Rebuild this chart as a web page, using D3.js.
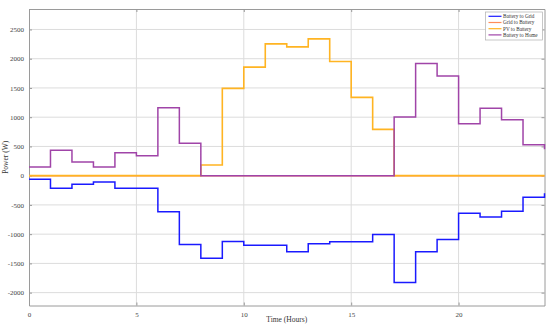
<!DOCTYPE html>
<html>
<head>
<meta charset="utf-8">
<script src="https://cdn.jsdelivr.net/npm/d3@7"></script>
<style>
  body { margin: 0; background: #fff; }
  svg text { font-family: "Liberation Serif", "Times New Roman", serif; fill: #333; }
</style>
</head>
<body>
<svg></svg>
<script>
// hourly values, step-after, last value is the point at hour 24
const hours = d3.range(0, 25);
const batteryToGrid = [-60, -215, -147, -108, -215, -215, -615, -1178, -1411, -1127, -1189, -1189, -1303, -1166, -1132, -1132, -1007, -1827, -1303, -1093, -643, -705, -609, -369, -300];
const gridToBattery = [0, 0, 0, 0, 0, 0, 0, 0, 0, 0, 0, 0, 0, 0, 0, 0, 0, 0, 0, 0, 0, 0, 0, 0, 0];
const pvToBattery = [0, 0, 0, 0, 0, 0, 0, 0, 183, 1492, 1856, 2254, 2203, 2340, 1953, 1339, 792, 0, 0, 0, 0, 0, 0, 0, 0];
const batteryToHome = [148, 434, 234, 148, 393, 342, 1161, 553, 0, 0, 0, 0, 0, 0, 0, 0, 0, 1002, 1919, 1703, 888, 1151, 957, 530, 451];
const seriesNames = ["Battery to Grid", "Grid to Battery", "PV to Battery", "Battery to Home"];
const xTicks = [0, 5, 10, 15, 20];
const yTicks = [-2000, -1500, -1000, -500, 0, 500, 1000, 1500, 2000, 2500];

const colors = ["#1a1aff", "#ff8c5a", "#ffb422", "#a044a8"];
const series = [batteryToGrid, gridToBattery, pvToBattery, batteryToHome];

const width = 550, height = 329;
const margin = {left: 29, right: 5.5, top: 9, bottom: 23.5};

const svg = d3.select("svg").attr("width", width).attr("height", height);

const x = d3.scaleLinear().domain([0, 24]).range([margin.left, width - margin.right]);
const y = d3.scaleLinear().domain([-2220, 2850]).range([height - margin.bottom, margin.top]);

// grid
svg.append("g")
  .selectAll("line.vgrid")
  .data(xTicks.slice(1))
  .enter().append("line")
  .attr("x1", d => x(d)).attr("x2", d => x(d))
  .attr("y1", y.range()[1]).attr("y2", y.range()[0])
  .style("stroke", "#dcdcdc").style("stroke-width", 1);

svg.append("g")
  .selectAll("line.hgrid")
  .data(yTicks)
  .enter().append("line")
  .attr("x1", x.range()[0]).attr("x2", x.range()[1])
  .attr("y1", d => y(d)).attr("y2", d => y(d))
  .style("stroke", "#dcdcdc").style("stroke-width", 1);

// axes
const plain = d => String(d);
svg.append("g")
  .attr("transform", `translate(0, ${y.range()[0]})`)
  .call(d3.axisBottom(x).tickValues(xTicks).tickFormat(plain).tickSizeInner(-3).tickSizeOuter(0).tickPadding(7));
svg.append("g")
  .attr("transform", `translate(${x.range()[0]}, 0)`)
  .call(d3.axisLeft(y).tickValues(yTicks).tickFormat(plain).tickSizeInner(-3).tickSizeOuter(0).tickPadding(5));
svg.append("g")
  .attr("transform", `translate(${x.range()[1]}, 0)`)
  .call(d3.axisRight(y).tickValues(yTicks).tickSizeInner(-3).tickSizeOuter(0).tickFormat(""));
svg.append("g")
  .attr("transform", `translate(0, ${y.range()[1]})`)
  .call(d3.axisTop(x).tickValues(xTicks).tickSizeInner(-3).tickSizeOuter(0).tickFormat(""));

svg.selectAll(".domain").style("stroke", "#9a9a9a");
svg.selectAll(".tick line").style("stroke", "#9a9a9a");
svg.selectAll(".tick text").style("font-size", "7px").style("fill", "#444")
  .style("font-family", "Liberation Serif, serif");

// lines
const line = d3.line()
  .x((d, i) => x(hours[i]))
  .y(d => y(d))
  .curve(d3.curveStepAfter);

const order = [1, 2, 3, 0];
svg.append("g")
  .selectAll("path.series")
  .data(order)
  .enter().append("path")
  .attr("class", "series")
  .attr("d", k => line(series[k]))
  .style("fill", "none")
  .style("stroke", k => colors[k])
  .style("stroke-width", k => k === 2 ? 1.6 : 1.5);

// labels
svg.append("text")
  .attr("x", (x.range()[0] + x.range()[1]) / 2)
  .attr("y", 322)
  .attr("text-anchor", "middle")
  .style("font-size", "7.5px")
  .text("Time (Hours)");

svg.append("text")
  .attr("transform", `translate(8, ${(y.range()[0] + y.range()[1]) / 2}) rotate(-90)`)
  .attr("text-anchor", "middle")
  .style("font-size", "7.5px")
  .text("Power (W)");

// legend
const legend = svg.append("g").attr("transform", "translate(485.5, 12)");
legend.append("rect")
  .attr("width", 57).attr("height", 28)
  .style("fill", "#fff").style("stroke", "#b0b0b0").style("stroke-width", 0.7);

const items = legend.selectAll("g.item")
  .data(seriesNames)
  .enter().append("g")
  .attr("transform", (d, i) => `translate(0, ${4.3 + i * 6.2})`);
items.append("line")
  .attr("x1", 3).attr("x2", 16)
  .style("stroke", (d, i) => colors[i]).style("stroke-width", 1.2);
items.append("text")
  .attr("x", 17.5).attr("y", 1.8)
  .style("font-size", "5.2px")
  .text(d => d);
</script>
</body>
</html>
